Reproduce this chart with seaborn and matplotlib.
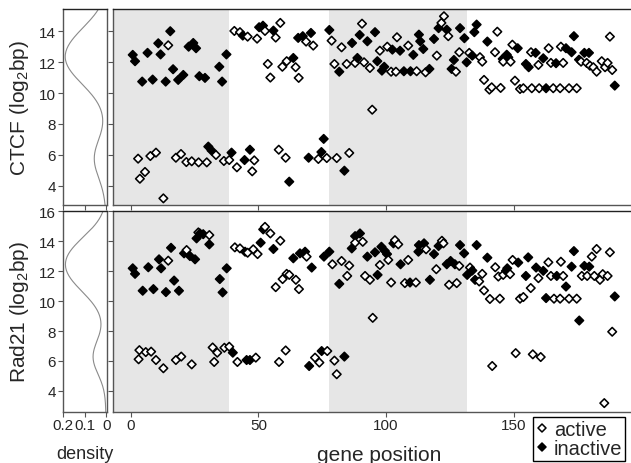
import numpy as np
import pandas as pd
import seaborn as sns
import matplotlib.pyplot as plt
from matplotlib.markers import MarkerStyle
from matplotlib.lines import Line2D

# ---- CTCF (top panel) ----
ctcf_active_pos = [2.9, 3.6, 5.6, 7.7, 9.9, 12.8, 14.7, 17.7, 19.7, 21.8,
                   23.9, 26.6, 29.8, 33.4, 36.5, 38.6, 41.6, 47.6, 48.4, 40.6,
                   42.8, 45.8, 49.5, 52.6, 56.8, 58.6, 53.7, 54.7, 59.4, 61.1,
                   58.0, 60.7,
                   64.6, 65.8, 68.7, 71.5, 73.5, 76.8, 80.7, 85.6, 90.6, 78.7,
                   82.6, 79.8, 84.6, 87.9, 91.4, 93.7, 94.6, 97.6, 100.5, 102.0,
                   104.3, 103.9, 108.7, 112.0, 115.5, 119.9, 122.7, 121.7, 124.4,
                   128.7, 127.4, 132.6, 136.8, 137.7, 143.6, 142.7, 138.4, 140.5, 141.4,
                   144.9, 145.9, 148.8, 149.5, 150.5, 152.5, 153.8, 157.1, 160.0, 156.8,
                   159.7, 163.7, 164.6, 165.5, 168.2, 169.4, 168.5, 171.7, 174.7, 176.4,
                   178.6, 179.9, 181.2, 182.5, 184.5, 185.8, 186.8, 188.6, 187.7]
ctcf_active_val = [5.75, 4.45, 4.89, 5.92, 6.14, 3.18, 13.09, 5.81, 6.05, 5.53,
                   5.58, 5.51, 5.51, 5.99, 5.6, 5.66, 5.19, 4.93, 5.64, 14.02,
                   13.94, 13.65, 13.52, 14.02, 13.59, 14.54, 11.88, 11.0, 11.7, 12.06,
                   6.33, 5.81,
                   11.67, 10.98, 13.33, 13.07, 5.73, 5.79, 5.79, 6.12, 14.49, 13.39,
                   12.96, 11.88, 11.88, 11.95, 11.99, 11.62, 8.92, 12.74, 13.0, 11.38,
                   13.61, 11.38, 13.07, 11.41, 11.34, 12.42, 14.97, 14.54, 13.68,
                   12.64, 11.38, 12.6, 12.32, 12.03, 13.97, 12.64, 10.85, 10.22, 10.37,
                   10.33, 12.03, 12.03, 13.13, 10.8, 10.26, 10.31, 10.31, 10.31, 12.64,
                   11.82, 12.9, 11.95, 10.31, 10.31, 11.95, 13.0, 10.31, 10.31, 12.03,
                   11.95, 11.77, 11.67, 11.38, 12.06, 11.67, 11.95, 11.49, 13.65]
ctcf_inactive_pos = [0.8, 1.7, 4.5, 6.6, 8.6, 10.8, 11.7, 13.7, 15.5, 16.6,
                     18.6, 20.6, 22.7, 24.5, 25.6, 26.9, 29.1, 34.7, 35.8, 37.5,
                     30.4, 31.7, 39.5, 44.6, 46.7, 51.8, 50.3, 55.9, 43.9, 62.1,
                     65.6, 67.4, 70.6, 63.7, 75.6, 74.7, 69.7, 83.7, 77.8, 81.7,
                     86.7, 88.8, 89.7, 92.7, 95.7, 96.6, 99.3, 98.4, 102.5, 105.5,
                     107.0, 109.6, 110.7, 112.9, 113.4, 114.6, 117.0, 118.8, 120.6, 123.8,
                     125.7, 126.6, 129.0,
                     130.7, 134.6, 135.5, 131.6, 133.8, 139.7, 145.7, 147.3, 147.9, 151.6,
                     154.8, 155.9, 158.6, 161.6, 166.6, 162.7, 170.5, 172.7, 173.6, 175.6,
                     177.7, 179.5, 189.6]
ctcf_inactive_val = [12.47, 12.06, 10.74, 12.6, 10.87, 13.22, 12.5, 10.74, 14.0, 11.54,
                     10.85, 11.17, 13.0, 13.24, 12.9, 11.09, 10.98, 11.7, 10.74, 12.5,
                     6.53, 6.27, 6.14, 5.66, 6.33, 14.36, 14.26, 14.04, 13.72, 4.26,
                     13.57, 13.68, 13.89, 12.27, 7.03, 6.18, 5.81, 4.97, 14.08, 11.38,
                     13.24, 12.27, 13.76, 13.35, 13.94, 12.06, 11.7, 11.45, 12.81, 12.74,
                     11.41, 11.41, 12.47, 13.78, 13.35, 12.85, 11.56, 13.5, 14.2, 14.1,
                     11.56, 12.14, 14.2,
                     13.55, 13.94, 14.43, 11.99, 12.42, 13.33, 12.21, 12.48, 12.31, 12.9,
                     11.88, 11.67, 12.6, 12.25, 11.93, 10.31, 12.9, 12.64, 13.68, 12.16,
                     12.6, 12.6, 10.48]

# ---- Rad21 (bottom panel) ----
rad21_active_pos = [3.4, 3.1, 5.9, 8.0, 9.9, 12.8, 14.7, 17.7, 19.8, 21.9,
                    23.9, 26.5, 30.8, 32.1, 33.9, 32.7, 36.7, 38.6, 41.8, 49.0,
                    40.8, 42.8, 45.8, 48.0, 49.7, 52.6, 54.7, 58.6, 56.8, 59.5,
                    61.1, 58.1, 60.7,
                    62.1, 64.7, 65.9, 68.9, 72.2, 73.9, 77.0, 79.8, 80.7, 79.0,
                    82.6, 85.6, 84.8, 87.9, 90.9, 91.8, 93.7, 94.8, 97.6, 100.9,
                    102.0, 103.5, 104.8, 108.7, 107.4, 111.7, 115.7, 119.7, 121.9, 122.5,
                    124.7, 127.7,
                    128.7, 132.9, 137.7, 136.5, 138.4, 140.7, 144.6, 142.8, 144.0, 145.9,
                    148.6, 149.6, 152.5, 153.8, 156.7, 159.7, 163.6, 164.6, 165.8, 168.5,
                    169.4, 168.2, 171.7, 174.7, 176.7, 178.8, 180.6, 182.5, 181.6, 183.8,
                    184.9, 186.8, 187.7, 188.6, 150.8, 141.6, 157.5, 160.6, 185.5]
rad21_active_val = [6.72, 6.11, 6.59, 6.62, 6.06, 5.51, 12.7, 6.06, 6.29, 13.41,
                    5.77, 14.59, 14.41, 6.9, 6.55, 5.93, 6.88, 6.95, 5.93, 6.22,
                    13.59, 13.52, 13.23, 13.46, 13.14, 14.96, 14.52, 14.03, 10.93, 11.47,
                    11.82, 5.93, 6.7,
                    11.75, 11.42, 10.8, 12.97, 6.22, 5.89, 6.66, 6.02, 5.11, 12.46,
                    12.68, 12.37, 11.68, 13.9, 13.96, 11.68, 11.42, 8.88, 12.41, 12.75,
                    11.24, 14.07, 13.79, 12.75, 11.2, 11.24, 13.46, 12.13, 14.03, 13.86,
                    11.09, 11.2,
                    12.35, 12.24, 11.82, 11.31, 10.71, 10.14, 10.16, 12.26, 11.64, 11.75,
                    11.8, 12.75, 10.16, 10.27, 10.87, 11.53, 12.59, 11.68, 10.16, 12.63,
                    11.68, 10.16, 10.16, 10.16, 11.68, 11.68, 12.97, 13.48, 11.68, 11.42,
                    11.8, 11.68, 13.26, 7.95, 6.52, 5.66, 6.44, 6.26, 3.18]
rad21_inactive_pos = [0.8, 1.7, 4.7, 6.9, 8.9, 11.1, 11.9, 13.8, 15.8, 17.0,
                      18.9, 20.9, 23.2, 25.2, 25.8, 27.1, 28.4, 30.8, 34.9, 36.0,
                      37.6, 40.0, 45.4, 46.7, 50.9, 51.9, 55.9, 44.8,
                      63.7, 66.3, 68.3, 70.9, 69.9, 74.8, 83.7, 75.7, 77.8, 81.7,
                      86.6, 87.9, 89.8, 92.7, 95.7, 96.7, 98.2, 99.5, 100.4, 102.9,
                      105.7, 109.4, 112.9, 114.9, 112.7, 118.8, 117.2, 120.6, 123.8, 125.3,
                      127.0, 129.0,
                      130.6, 135.5, 139.7, 131.8, 133.8, 134.9, 147.5, 147.0, 151.8, 155.7,
                      154.8, 158.8, 161.6, 162.7, 166.9, 170.5, 172.7, 173.6, 175.7, 177.7,
                      179.6, 189.6]
rad21_inactive_val = [12.19, 11.82, 10.69, 12.26, 10.8, 12.79, 12.19, 10.6, 13.56, 11.37,
                      10.69, 13.19, 13.01, 12.79, 14.19, 14.52, 14.47, 13.79, 11.47, 10.58,
                      12.19, 6.55, 6.06, 6.06, 13.9, 14.79, 13.48, 13.3,
                      12.86, 13.19, 13.3, 12.24, 5.66, 6.66, 6.29, 12.97, 13.3, 11.15,
                      13.52, 14.34, 14.52, 12.97, 13.26, 11.75, 13.63, 13.36, 13.14, 13.86,
                      12.46, 11.24, 13.74, 13.86, 13.3, 13.14, 11.42, 13.68, 12.46, 12.68,
                      12.46, 13.74,
                      13.19, 13.74, 12.9, 11.75, 12.04, 11.42, 12.19, 12.02, 12.57, 12.92,
                      11.68, 12.24, 12.02, 10.2, 11.68, 10.97, 12.3, 13.34, 8.7, 12.35,
                      12.3, 10.31]

# shaded gene-position blocks
shade_start = [-20, 77.7]
shade_end = [38.5, 131.6]

panel_labels = ['CTCF (log$_\\mathregular{2}$bp)', 'Rad21 (log$_\\mathregular{2}$bp)']
panel_yticks = [[4, 6, 8, 10, 12, 14], [4, 6, 8, 10, 12, 14, 16]]
panel_ylims = [(2.75, 15.44), (2.62, 15.91)]


def make_df(a_pos, a_val, i_pos, i_val):
    d = pd.concat([
        pd.DataFrame({'pos': a_pos, 'val': a_val, 'state': 'active'}),
        pd.DataFrame({'pos': i_pos, 'val': i_val, 'state': 'inactive'}),
    ])
    return d.sort_values('pos').reset_index(drop=True)


dfs = [make_df(ctcf_active_pos, ctcf_active_val, ctcf_inactive_pos, ctcf_inactive_val),
       make_df(rad21_active_pos, rad21_active_val, rad21_inactive_pos, rad21_inactive_val)]

sns.set_style("white")
plt.rcParams['font.family'] = ['Liberation Sans', 'DejaVu Sans']

W, H = 631, 464
fig = plt.figure(figsize=(W / 100, H / 100), dpi=100)

# pixel boxes: (top, bottom) of each row, (left, right) of each column
rows = [(10, 206), (212.3, 412.5)]
dens_lr = (62.7, 106.7)
scat_lr = (112.7, 645)

diamond = MarkerStyle('D', joinstyle='round')
spine_col = '#555555'

for r, (top, bot) in enumerate(rows):
    df = dfs[r]
    ax_d = fig.add_axes([dens_lr[0] / W, 1 - bot / H, (dens_lr[1] - dens_lr[0]) / W, (bot - top) / H])
    ax_s = fig.add_axes([scat_lr[0] / W, 1 - bot / H, (scat_lr[1] - scat_lr[0]) / W, (bot - top) / H])

    # density of all values
    sns.kdeplot(y=df['val'], ax=ax_d, color='#8a8a8a', linewidth=0.8, bw_adjust=1.15)
    ax_d.set_xlim(0.203, -0.002)
    ax_d.set_ylim(*panel_ylims[r])
    ax_d.set_xticks([0.2, 0.1, 0])
    ax_d.set_yticks(panel_yticks[r])
    ax_d.set_ylabel(panel_labels[r], fontsize=15)
    ax_d.yaxis.set_label_coords(-0.72, 0.5)

    # scatter panel
    for s0, s1 in zip(shade_start, shade_end):
        ax_s.axvspan(s0, s1, color='#e6e6e6', lw=0, zorder=0)
    sns.scatterplot(data=df, x='pos', y='val', hue='state',
                    palette={'active': 'white', 'inactive': 'black'},
                    marker=diamond, s=19, edgecolor='black', linewidth=1.15,
                    legend=False, ax=ax_s, zorder=3)
    ax_s.set_xlim(-7.05, (scat_lr[1] - 130.7) / 2.553)
    ax_s.set_ylim(*panel_ylims[r])
    ax_s.set_xticks([0, 50, 100, 150])
    ax_s.set_yticks(panel_yticks[r])
    ax_s.set_xlabel('')
    ax_s.set_ylabel('')

    for ax in (ax_d, ax_s):
        ax.tick_params(direction='out', length=3.5, width=0.8, color=spine_col,
                       labelsize=11, pad=1.5, bottom=True, left=True)
        for sp in ax.spines.values():
            sp.set_color(spine_col)
            sp.set_linewidth(1.0)
        ax.spines['top'].set_color('#222222')
    ax_s.tick_params(labelleft=False)

    if r == 0:
        ax_d.tick_params(labelbottom=False)
        ax_s.tick_params(labelbottom=False)
        ax_d.set_xlabel('')
    else:
        ax_d.set_xticklabels(['0.2', '0.1', '0'])
        ax_d.set_xlabel('density', fontsize=13)
        ax_d.xaxis.set_label_coords(0.5, -0.165)
        ax_s.set_xlabel('gene position', fontsize=15)
        ax_s.xaxis.set_label_coords(0.5, -0.165)

handles = [Line2D([], [], marker=diamond, ls='', mfc='white', mec='black', ms=4.4, mew=1.1),
           Line2D([], [], marker=diamond, ls='', mfc='black', mec='black', ms=4.4, mew=1.1)]
leg = fig.legend(handles, ['active', 'inactive'], loc='upper left',
                 bbox_to_anchor=(532.7 / W, 1 - 417.7 / H), borderaxespad=0,
                 frameon=True, fancybox=False, edgecolor='black', framealpha=1,
                 fontsize=14.5, handlelength=0.6, handletextpad=0.3, borderpad=0.15,
                 labelspacing=0.0)
leg.get_frame().set_linewidth(1.0)

fig.savefig('out.png', dpi=100)
